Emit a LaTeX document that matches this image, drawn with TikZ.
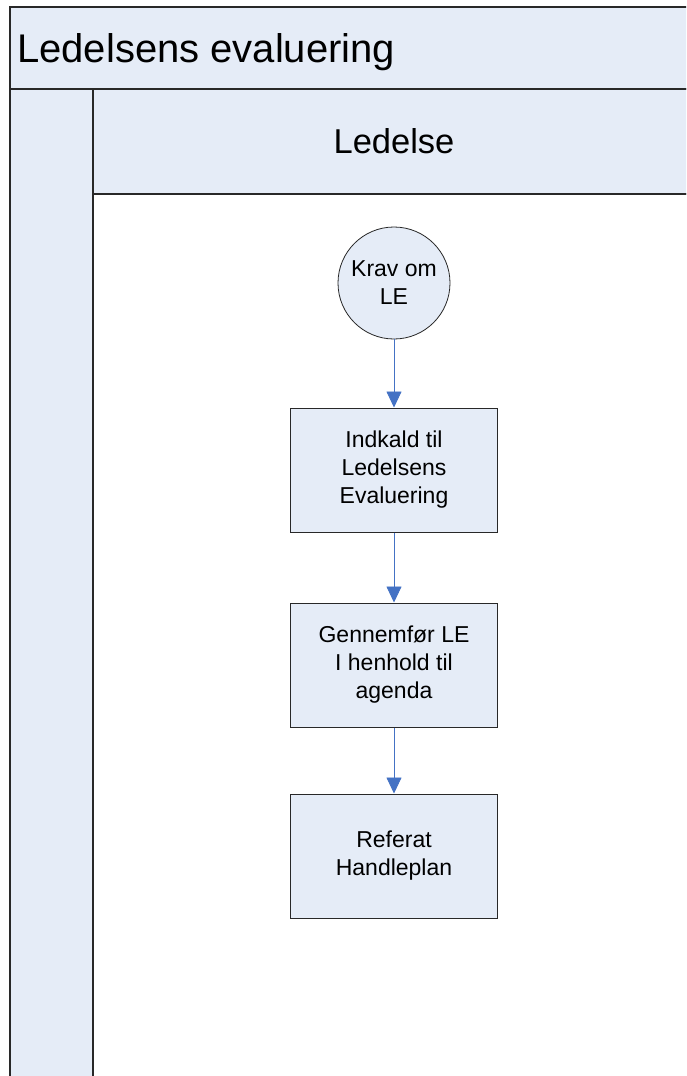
\documentclass[tikz,border=0pt]{standalone}
\usepackage{fontspec}
\setmainfont{Liberation Sans}
\usetikzlibrary{arrows.meta}
\definecolor{lanefill}{RGB}{229,236,247}
\definecolor{flowblue}{RGB}{68,114,196}
\definecolor{edgegray}{RGB}{40,40,40}
\tikzset{
  frame/.style={draw=edgegray, line width=1.1pt, fill=lanefill},
  event/.style={circle, draw=edgegray, line width=0.8pt, fill=lanefill,
    minimum size=112pt, inner sep=0pt, align=center, font=\fontsize{23}{28}\selectfont},
  task/.style={rectangle, draw=edgegray, line width=1pt, fill=lanefill,
    minimum width=207pt, minimum height=124pt, inner sep=0pt, align=center,
    font=\fontsize{23}{28}\selectfont},
  flow/.style={draw=flowblue, line width=0.8pt,
    -{Triangle[length=16pt,width=15pt]}, shorten >=0pt}
}
\begin{document}
\begin{tikzpicture}[x=1pt,y=-1pt]
  \useasboundingbox (0,0) rectangle (686,1076);
  \clip (0,0) rectangle (686,1076);
  % pool title band
  \path[frame] (10,7) rectangle (700,89);
  \node[anchor=base west, inner sep=0pt, font=\fontsize{40}{48}\selectfont] (pooltitle) at (17,62) {Ledelsens evaluering};
  % left margin column
  \path[frame] (10,89) rectangle (93,1090);
  % lane header and body
  \path[frame] (93,89) rectangle (700,194);
  \path[draw=edgegray, line width=1.1pt, fill=white] (93,194) rectangle (700,1090);
  \node[anchor=base, inner sep=0pt, font=\fontsize{34.5}{40}\selectfont] (lanetitle) at (394,153) {Ledelse};
  % process steps
  \node[event] (start) at (394,283) {Krav om\\LE};
  \node[task] (indkald) at (394,470) {Indkald til\\Ledelsens\\Evaluering};
  \node[task] (gennemfor) at (394,665) {Gennemfør LE\\I henhold til\\agenda};
  \node[task] (referat) at (394,856) {Referat\\Handleplan};
  % connectors
  \draw[flow] (start) -- (indkald);
  \draw[flow] (indkald) -- (gennemfor);
  \draw[flow] (gennemfor) -- (referat);
\end{tikzpicture}
\end{document}
